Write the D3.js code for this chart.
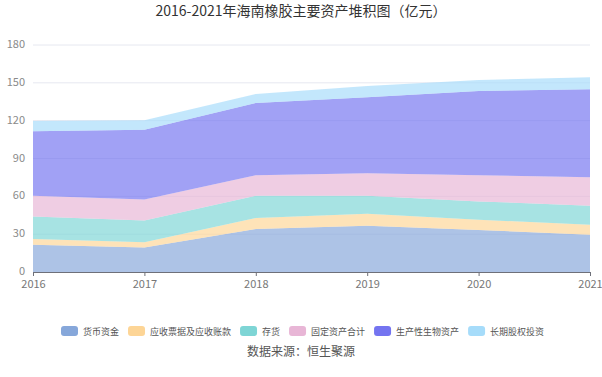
<!DOCTYPE html>
<html>
<head>
<meta charset="utf-8">
<script src="https://cdn.jsdelivr.net/npm/d3@7"></script>
<style>
  body { margin: 0; background: #fff; }
  svg text { font-family: "Noto Sans CJK SC", "Noto Sans", sans-serif; }
</style>
</head>
<body>
<div id="chart"></div>
<script>
const years = ["2016", "2017", "2018", "2019", "2020", "2021"];
const seriesNames = ["货币资金", "应收票据及应收账款", "存货", "固定资产合计", "生产性生物资产", "长期股权投资"];
const cash = [21.6, 19.5, 34.0, 36.7, 33.3, 29.6];
const receivables = [4.5, 4.0, 8.8, 9.5, 8.1, 7.9];
const inventory = [18.0, 17.4, 17.6, 14.2, 14.6, 15.0];
const fixedAssets = [16.3, 16.6, 16.4, 18.0, 20.8, 22.7];
const bioAssets = [51.2, 55.2, 57.3, 60.2, 66.8, 69.7];
const equityInv = [8.2, 7.6, 7.1, 8.9, 8.7, 9.5];
const yTicks = [0, 30, 60, 90, 120, 150, 180];
const colors = ["#86a7da", "#fdd596", "#7ed5d5", "#e8b6d6", "#7474f0", "#a6dcfa"];

const width = 602, height = 377, margin = { top: 45, right: 12, bottom: 105, left: 33 };

const table = years.map((yr, i) => ({
    year: yr,
    [seriesNames[0]]: cash[i],
    [seriesNames[1]]: receivables[i],
    [seriesNames[2]]: inventory[i],
    [seriesNames[3]]: fixedAssets[i],
    [seriesNames[4]]: bioAssets[i],
    [seriesNames[5]]: equityInv[i]
}));

const svg = d3.select("#chart").append("svg")
    .attr("width", width)
    .attr("height", height);

const x = d3.scalePoint()
    .domain(years)
    .range([margin.left, width - margin.right]);

const y = d3.scaleLinear()
    .domain([0, 180])
    .range([height - margin.bottom, margin.top]);

const color = d3.scaleOrdinal().domain(seriesNames).range(colors);

// title
svg.append("text")
    .attr("x", width / 2)
    .attr("y", 16)
    .attr("text-anchor", "middle")
    .attr("font-size", "14px")
    .attr("fill", "#333")
    .text("2016-2021年海南橡胶主要资产堆积图（亿元）");

// grid
svg.append("g")
    .selectAll("line")
    .data(yTicks.slice(1))
    .join("line")
    .attr("x1", margin.left)
    .attr("x2", width - margin.right)
    .attr("y1", d => y(d))
    .attr("y2", d => y(d))
    .attr("stroke", "#e6e8f0")
    .attr("stroke-width", 1);

svg.append("g")
    .selectAll("text")
    .data(yTicks)
    .join("text")
    .attr("x", margin.left - 8)
    .attr("y", d => y(d) + 3)
    .attr("text-anchor", "end")
    .attr("font-size", "11px")
    .attr("fill", "#8a8a8a")
    .text(d => d);

// stacked areas
const series = d3.stack().keys(seriesNames)(table);
const area = d3.area()
    .x(d => x(d.data.year))
    .y0(d => y(d[0]))
    .y1(d => y(d[1]));

svg.append("g")
    .selectAll("path")
    .data(series)
    .join("path")
    .attr("d", area)
    .attr("fill", d => color(d.key))
    .attr("fill-opacity", 0.68)
    .attr("stroke", "none");

// x axis
const xAxis = svg.append("g")
    .attr("transform", `translate(0,${y(0)})`)
    .call(d3.axisBottom(x).tickSize(4).tickSizeOuter(0));
xAxis.select(".domain").attr("stroke", "#6e7079");
xAxis.selectAll(".tick line").attr("stroke", "#6e7079");
xAxis.selectAll("text")
    .attr("font-family", "'Noto Sans', sans-serif")
    .attr("font-size", "11px")
    .attr("fill", "#777")
    .attr("dy", "0.85em");

// legend
let lx = 61;
const legend = svg.append("g").attr("transform", "translate(0,331)");
seriesNames.forEach(name => {
    const g = legend.append("g").attr("transform", `translate(${lx},0)`);
    g.append("rect")
        .attr("x", 0).attr("y", -5)
        .attr("width", 17).attr("height", 10)
        .attr("rx", 3)
        .attr("fill", color(name));
    const t = g.append("text")
        .attr("x", 22).attr("y", 3.5)
        .attr("font-size", "9px")
        .attr("fill", "#555")
        .text(name);
    lx += 22 + t.node().getComputedTextLength() + 9;
});

svg.append("text")
    .attr("x", width / 2)
    .attr("y", 356)
    .attr("text-anchor", "middle")
    .attr("font-size", "12px")
    .attr("fill", "#555")
    .text("数据来源：恒生聚源");
</script>
</body>
</html>
